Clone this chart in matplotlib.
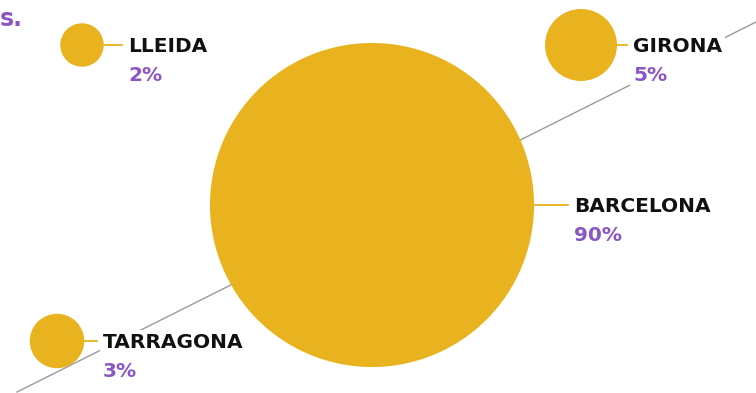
import matplotlib
matplotlib.use('Agg')
import matplotlib.pyplot as plt
from matplotlib.patches import Circle, Rectangle
import numpy as np

# data
cities = ['BARCELONA', 'GIRONA', 'LLEIDA', 'TARRAGONA']
shares = [90, 5, 2, 3]

# layout (pixel space, y downwards)
centers = {'BARCELONA': (372, 205), 'GIRONA': (581, 45),
           'LLEIDA': (82, 45), 'TARRAGONA': (57, 341)}
label_x = {'BARCELONA': 574, 'GIRONA': 633, 'LLEIDA': 128, 'TARRAGONA': 103}

GOLD = '#E8B31E'
PURPLE = '#8B55C6'
INK = '#111111'

plt.rcParams['font.family'] = ['DejaVu Sans']

fig = plt.figure(figsize=(7.56, 3.93), dpi=100)
ax = fig.add_axes([0, 0, 1, 1])
ax.set_xlim(0, 756)
ax.set_ylim(393, 0)
ax.set_aspect('equal')
ax.axis('off')

# sqrt radius scale
def radius(v):
    return 17.38 * np.sqrt(v) - 2.86

# diagonal guide line
ax.plot([17, 770], [392, 15], color='#9a9a9a', lw=1, zorder=1)

texts = []
for name, v in zip(cities, shares):
    cx, cy = centers[name]
    r = radius(v)
    ax.add_patch(Circle((cx, cy), r, facecolor=GOLD, edgecolor='none', zorder=3))
    lx = label_x[name]
    ax.plot([cx + r, lx - 6], [cy, cy], color=GOLD, lw=1.3, zorder=3)
    t1 = ax.text(lx, cy + 7, name, fontsize=14.5, fontweight='bold', color=INK,
                 ha='left', va='baseline', zorder=5)
    t2 = ax.text(lx, cy + 36, f'{v}%', fontsize=14.5, fontweight='bold', color=PURPLE,
                 ha='left', va='baseline', zorder=5)
    texts.append((t1, t2))

ax.text(0, 26, 's.', fontsize=17, fontweight='bold', color=PURPLE,
        ha='left', va='baseline')

# white backing behind each label block so the guide line is hidden
fig.canvas.draw()
inv = ax.transData.inverted()
for t1, t2 in texts:
    bb = t1.get_window_extent().union([t1.get_window_extent(), t2.get_window_extent()])
    (x0, y0), (x1, y1) = inv.transform([[bb.x0, bb.y0], [bb.x1, bb.y1]])
    ax.add_patch(Rectangle((x0 - 3, min(y0, y1) - 3), x1 - x0 + 6, abs(y1 - y0) + 6,
                           facecolor='white', edgecolor='none', zorder=2))

fig.savefig('out.png', dpi=100, facecolor='white')
